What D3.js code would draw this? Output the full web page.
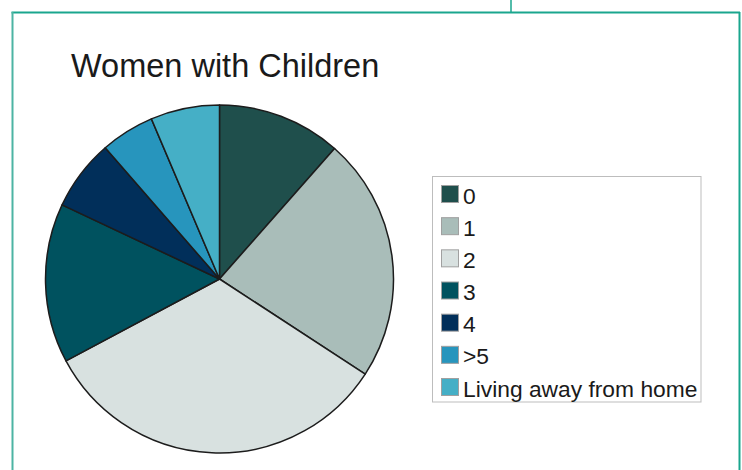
<!DOCTYPE html>
<html>
<head>
<meta charset="utf-8">
<script src="https://cdn.jsdelivr.net/npm/d3@7"></script>
<style>
  html, body { margin: 0; padding: 0; background: #fff; }
  svg { display: block; }
</style>
</head>
<body>
<svg id="chart" width="742" height="470"></svg>
<script>
// Share of women by number of children (percent)
const categories = ["0", "1", "2", "3", "4", ">5", "Living away from home"];
const shares = [11.5, 22.7, 33.0, 14.8, 6.6, 5.0, 6.4];
const colors = ["#1f4f4c", "#a9bdb9", "#d8e1e0", "#00525f", "#012f5a", "#2795bd", "#45afc6"];
const title = "Women with Children";

const svg = d3.select("#chart");
const W = 742, H = 470;

// Page frame
const frame = svg.append("g");
frame.append("line").attr("x1", 511).attr("x2", 511).attr("y1", 0).attr("y2", 12.5)
  .attr("stroke", "#1aa68e").attr("stroke-width", 1.5);
frame.append("line").attr("x1", 11.5).attr("x2", 740).attr("y1", 12.5).attr("y2", 12.5)
  .attr("stroke", "#1aa68e").attr("stroke-width", 2);
frame.append("line").attr("x1", 12.5).attr("x2", 12.5).attr("y1", 12).attr("y2", H)
  .attr("stroke", "#4cb4a3").attr("stroke-width", 2);
frame.append("line").attr("x1", 739.5).attr("x2", 739.5).attr("y1", 12).attr("y2", H)
  .attr("stroke", "#1aa68e").attr("stroke-width", 2);

// Title
svg.append("text")
  .attr("x", 71).attr("y", 77)
  .attr("font-family", "Liberation Sans, Arial, Helvetica, sans-serif")
  .attr("font-size", 32.5)
  .attr("fill", "#1a1a1a")
  .text(title);

// Pie
const cx = 219.5, cy = 279, r = 174;
const data = categories.map((c, i) => ({ cat: c, value: shares[i], color: colors[i] }));
const pie = d3.pie().value(d => d.value).sort(null).startAngle(0).endAngle(2 * Math.PI);
const arc = d3.arc().innerRadius(0).outerRadius(r);

svg.append("g")
  .attr("transform", `translate(${cx},${cy})`)
  .selectAll("path")
  .data(pie(data))
  .join("path")
  .attr("d", arc)
  .attr("fill", d => d.data.color)
  .attr("stroke", "#1c1c1c")
  .attr("stroke-width", 1.5)
  .attr("stroke-linejoin", "round");

// Legend
const lg = svg.append("g");
lg.append("rect")
  .attr("x", 432.5).attr("y", 176.5).attr("width", 268.5).attr("height", 225.5)
  .attr("fill", "#fff").attr("stroke", "#bdbdbd").attr("stroke-width", 1);

const rowY = d3.scalePoint().domain(categories).range([185, 378]);
const rows = lg.selectAll("g.row").data(data).join("g")
  .attr("class", "row")
  .attr("transform", d => `translate(441,${rowY(d.cat)})`);
rows.append("rect")
  .attr("x", 0.5).attr("y", 0.5).attr("width", 17).attr("height", 17)
  .attr("fill", d => d.color)
  .attr("stroke", "#a0a0a0").attr("stroke-width", 1);
rows.append("text")
  .attr("x", 22).attr("y", 18.5)
  .attr("font-family", "Liberation Sans, Arial, Helvetica, sans-serif")
  .attr("font-size", 22.8)
  .attr("fill", "#1a1a1a")
  .text(d => d.cat);
</script>
</body>
</html>
